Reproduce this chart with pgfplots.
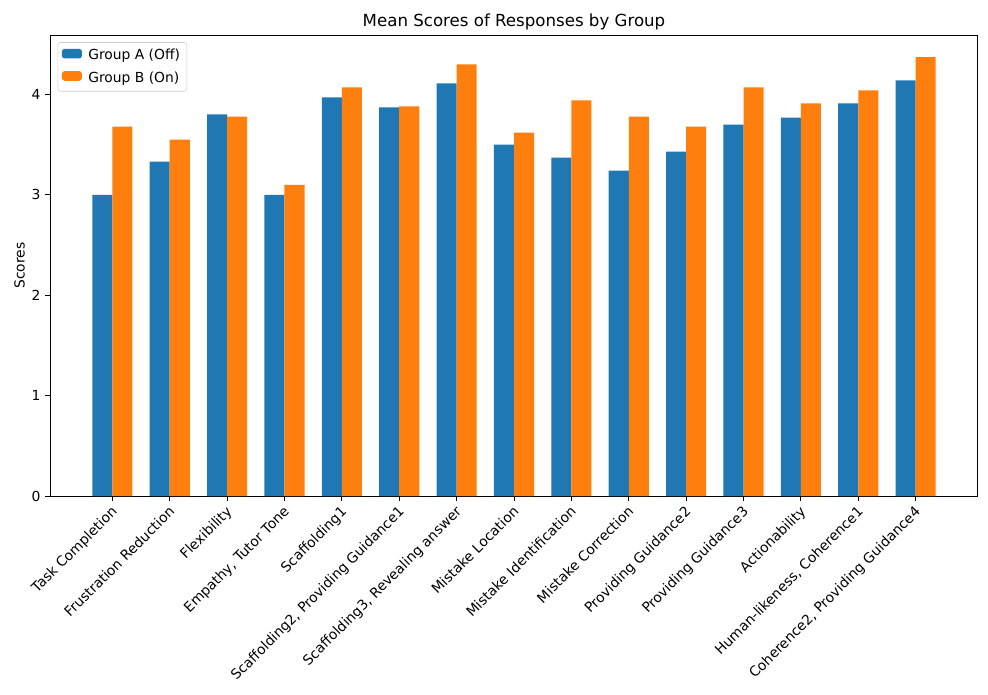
\documentclass[border=0pt]{standalone}
\usepackage{pgfplots}
\usepackage{pgfplotstable}
\pgfplotsset{compat=1.18}
\usepackage{fontspec}
\setmainfont{DejaVu Sans}
\definecolor{mblue}{HTML}{1F77B4}
\definecolor{morange}{HTML}{FF7F0E}
\pgfplotstableread{
x a b
0 3.00 3.68
1 3.33 3.55
2 3.80 3.78
3 3.00 3.10
4 3.97 4.07
5 3.87 3.88
6 4.11 4.30
7 3.50 3.62
8 3.37 3.94
9 3.24 3.78
10 3.43 3.68
11 3.70 4.07
12 3.77 3.91
13 3.91 4.04
14 4.14 4.37
}\datatable
\begin{document}
\begin{tikzpicture}
\begin{axis}[
  width=669.6pt, height=332.6pt, scale only axis,
  xmin=-1.085, xmax=15.085, ymin=0, ymax=4.5885,
  xtick={0,...,14},
  xticklabels={Task Completion,Frustration Reduction,Flexibility,{Empathy, Tutor Tone},Scaffolding1,{Scaffolding2, Providing Guidance1},{Scaffolding3, Revealing answer},Mistake Location,Mistake Identification,Mistake Correction,Providing Guidance2,Providing Guidance3,Actionability,{Human-likeness, Coherence1},{Coherence2, Providing Guidance4}},
  xticklabel style={rotate=45, anchor=north east, font=\fontsize{10}{12}\selectfont, inner sep=1pt, xshift=-2pt},
  ytick={0,1,2,3,4},
  yticklabel style={font=\fontsize{10}{12}\selectfont},
  /pgf/number format/assume math mode=true,
  tick align=outside, major tick length=3.5pt,
  xtick pos=bottom, ytick pos=left,
  tick style={black, line width=0.6pt},
  axis line style={line width=0.6pt},
  ylabel={Scores}, ylabel style={font=\fontsize{10}{12}\selectfont, yshift=-2pt},
  title={Mean Scores of Responses by Group},
  title style={font=\fontsize{12}{14}\selectfont, yshift=-6pt},
  legend style={at={(0.008,0.985)}, anchor=north west, draw=black!20, rounded corners=2pt, font=\fontsize{10}{12}\selectfont, row sep=3pt, inner xsep=3pt, inner ysep=3pt},
  legend cell align=left,
  legend image code/.code={\fill[#1] (0pt,-2pt) rectangle (14.4pt,5pt); \path (17pt,0pt);},
]
\addplot[ybar, bar width=0.35, bar shift=0pt, fill=mblue, draw=none] table[x expr=\thisrow{x}-0.175, y=a] {\datatable};
\addlegendentry{Group A (Off)}
\addplot[ybar, bar width=0.35, bar shift=0pt, fill=morange, draw=none] table[x expr=\thisrow{x}+0.175, y=b] {\datatable};
\addlegendentry{Group B (On)}
\end{axis}
\path ([shift={(-7pt,-7pt)}]current bounding box.south west) rectangle ([shift={(7pt,7pt)}]current bounding box.north east);
\end{tikzpicture}
\end{document}
